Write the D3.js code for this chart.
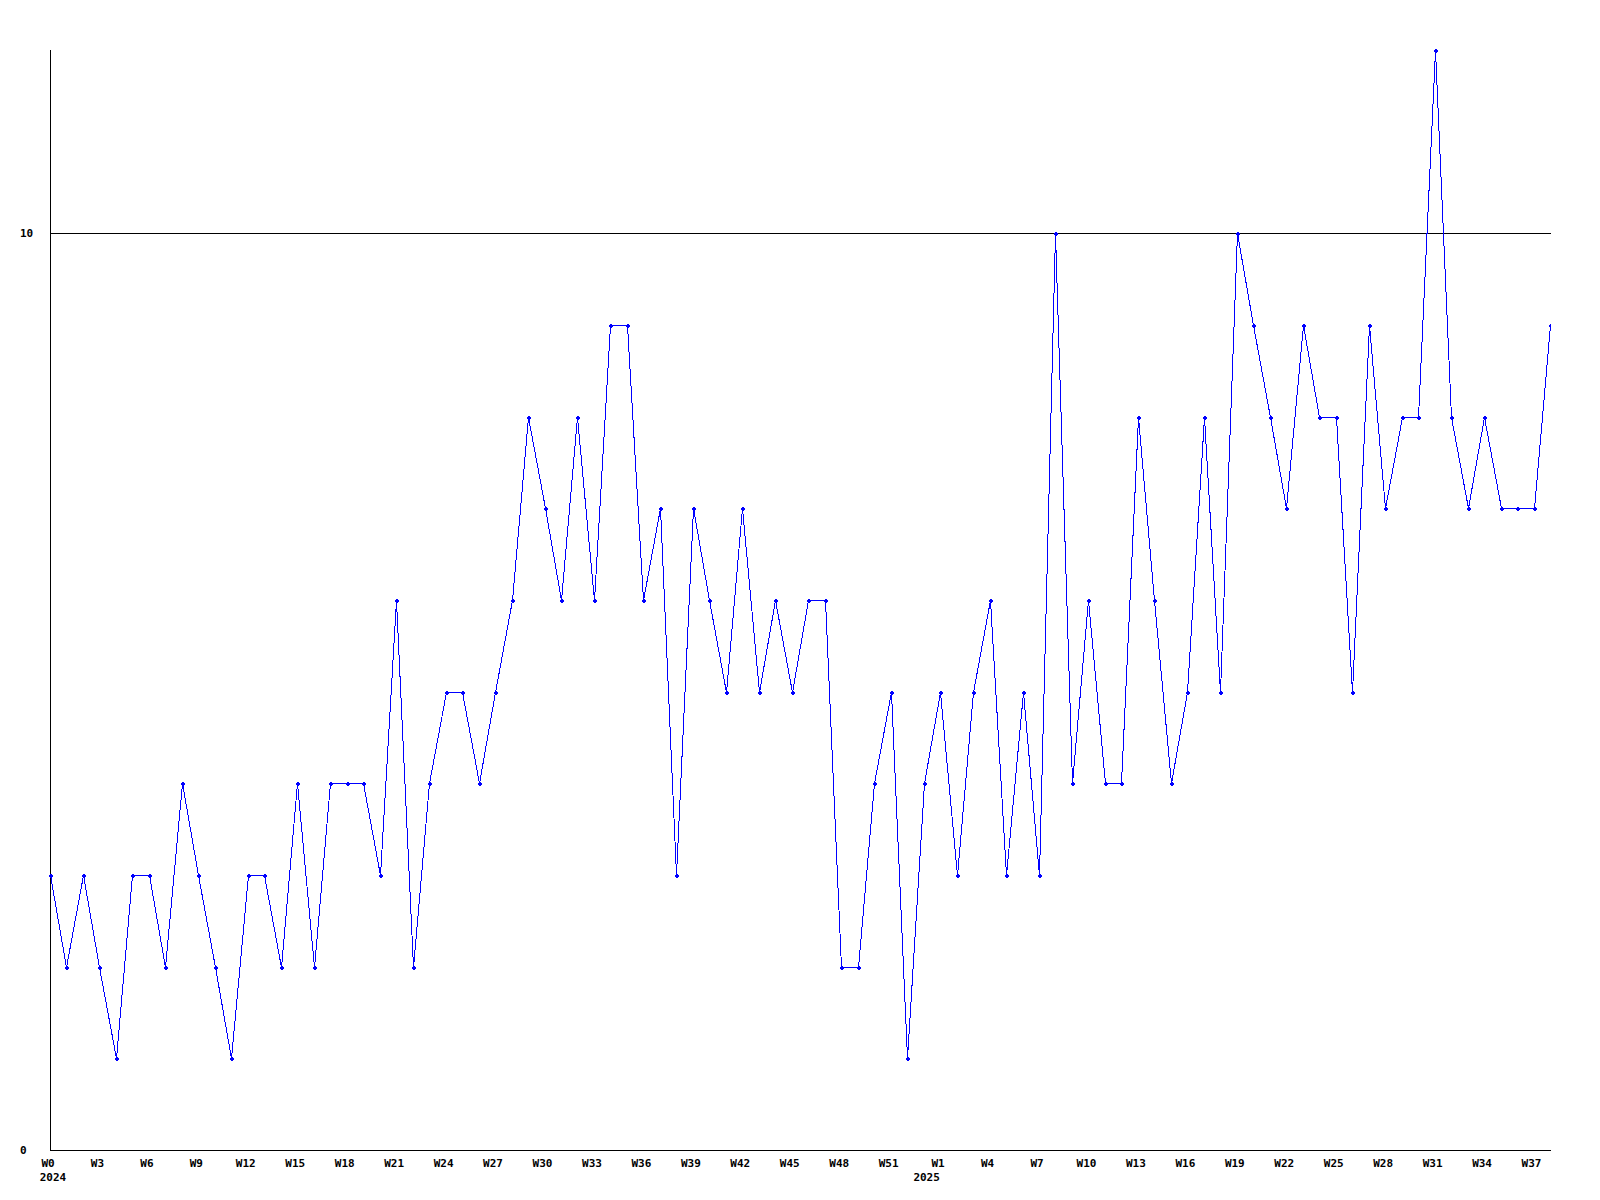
<!DOCTYPE html>
<html>
<head>
<meta charset="utf-8">
<script src="https://cdn.jsdelivr.net/npm/d3@7"></script>
<style>
  html, body { margin: 0; padding: 0; background: #fff; }
  svg { display: block; }
  text { font-family: "DejaVu Sans Mono", "Liberation Mono", monospace; font-weight: bold; font-size: 11px; fill: #000; }
</style>
</head>
<body>
<svg id="chart" width="1600" height="1200"></svg>
<script>
// Week labels: 2024 W0..W52, then 2025 W0..W38
const years = [2024, 2025];
const weeks2024 = d3.range(0, 53).map(w => "W" + w);
const weeks2025 = d3.range(0, 39).map(w => "W" + w);
const categories = weeks2024.concat(weeks2025);
const yearOfPoint = weeks2024.map(() => 2024).concat(weeks2025.map(() => 2025));

const values = [
  3, 2, 3, 2, 1, 3, 3, 2, 4, 3,
  2, 1, 3, 3, 2, 4, 2, 4, 4, 4,
  3, 6, 2, 4, 5, 5, 4, 5, 6, 8,
  7, 6, 8, 6, 9, 9, 6, 7, 3, 7,
  6, 5, 7, 5, 6, 5, 6, 6, 2, 2,
  4, 5, 1, 4, 5, 3, 5, 6, 3, 5,
  3, 10, 4, 6, 4, 4, 8, 6, 4, 5,
  8, 5, 10, 9, 8, 7, 9, 8, 8, 5,
  9, 7, 8, 8, 12, 8, 7, 8, 7, 7,
  7, 9
];

const yTickValues = [0, 10];
const yDomain = [0, 12];

const svg = d3.select("#chart");
const mLeft = 50, mRight = 1550, mTop = 50, mBottom = 1150;

const x = d3.scalePoint().domain(d3.range(values.length)).range([mLeft, mRight]);
const y = d3.scaleLinear().domain(yDomain).range([mBottom, mTop]);

// clip for plot area
svg.append("defs").append("clipPath").attr("id", "plotclip")
  .append("rect").attr("x", mLeft - 4).attr("y", mTop - 4)
  .attr("width", mRight - mLeft + 5).attr("height", mBottom - mTop + 8);

// horizontal reference lines at y ticks (except 0 which is the axis)
svg.append("g").selectAll("line").data(yTickValues.filter(v => v !== 0)).join("line")
  .attr("x1", mLeft).attr("x2", mRight + 1)
  .attr("y1", d => Math.round(y(d)) + 0.5).attr("y2", d => Math.round(y(d)) + 0.5)
  .attr("stroke", "#000").attr("stroke-width", 1).attr("shape-rendering", "crispEdges");

// axes lines
svg.append("line").attr("x1", mLeft + 0.5).attr("x2", mLeft + 0.5).attr("y1", mTop).attr("y2", mBottom)
  .attr("stroke", "#000").attr("shape-rendering", "crispEdges");
svg.append("line").attr("x1", mLeft).attr("x2", mRight + 1).attr("y1", mBottom + 0.5).attr("y2", mBottom + 0.5)
  .attr("stroke", "#000").attr("shape-rendering", "crispEdges");

// y labels
svg.append("g").selectAll("text").data(yTickValues).join("text")
  .attr("x", 20).attr("y", d => y(d)).attr("dy", "0.35em")
  .text(d => d);

// x tick labels every 3rd point
const tickIdx = d3.range(values.length).filter(i => {
  const w = +categories[i].slice(1);
  return (yearOfPoint[i] === 2024 && w % 3 === 0) || (yearOfPoint[i] === 2025 && w % 3 === 1);
});
svg.append("g").selectAll("text").data(tickIdx).join("text")
  .attr("x", i => x(i) - 2).attr("y", 1163).attr("dy", "0.35em")
  .attr("text-anchor", "middle")
  .text(i => categories[i]);

// year labels at the first point of each year
svg.append("g").selectAll("text").data(years).join("text")
  .attr("x", yr => x(yearOfPoint.indexOf(yr)) + 3).attr("y", 1177).attr("dy", "0.35em")
  .attr("text-anchor", "middle")
  .text(yr => yr);

// line
const g = svg.append("g").attr("clip-path", "url(#plotclip)");
g.append("path").datum(values)
  .attr("d", d3.line().x((d, i) => Math.round(x(i)) + 0.5).y(d => Math.round(y(d)) + 0.5))
  .attr("fill", "none").attr("stroke", "#0000ff").attr("stroke-width", 1)
  .attr("shape-rendering", "crispEdges");

// small plus markers
g.selectAll("path.m").data(values).join("path").attr("class", "m")
  .attr("d", (d, i) => {
    const cx = Math.round(x(i)) + 0.5, cy = Math.round(y(d)) + 0.5;
    return `M${cx - 2},${cy}H${cx + 2}M${cx},${cy - 2}V${cy + 2}`;
  })
  .attr("stroke", "#0000ff").attr("stroke-width", 2).attr("fill", "none")
  .attr("shape-rendering", "crispEdges");
</script>
</body>
</html>
